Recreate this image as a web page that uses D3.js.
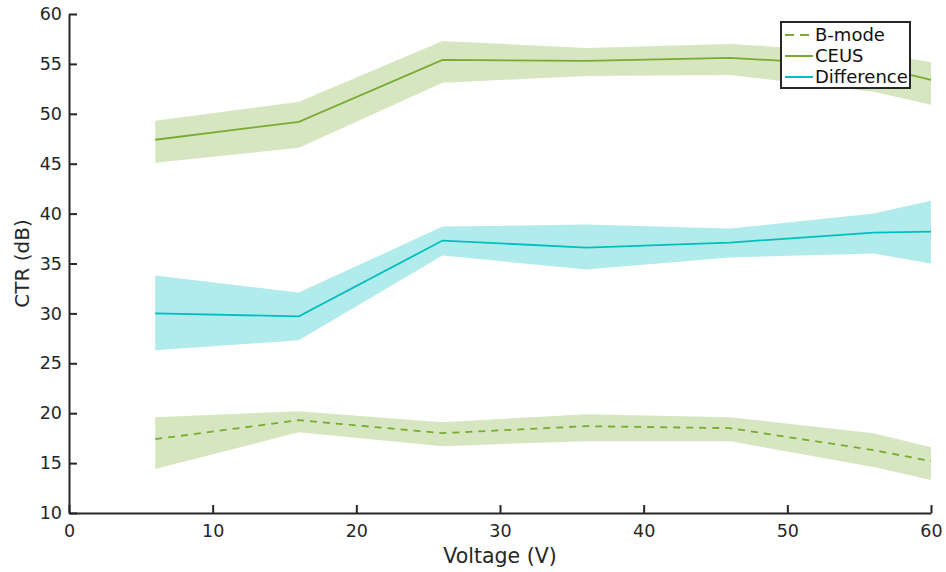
<!DOCTYPE html>
<html>
  <head>
    <meta charset="utf-8">
    <title>CTR vs Voltage</title>
    <script src="https://d3js.org/d3.v7.min.js"></script>
    <style>
      body { margin: 0; background: #fff; font-family: "DejaVu Sans", sans-serif; }
      svg text { fill: #262626; }
    </style>
  </head>
  <body>
    <div id="chart"></div>
    <script>
      // Voltage steps (V)
      var voltage = [6, 16, 26, 36, 46, 56, 60];

      // CTR (dB): mean, upper and lower edge of the shaded band
      var ceusMean  = [47.4, 49.2, 55.4, 55.3, 55.6, 54.8, 53.4];
      var ceusUpper = [49.3, 51.2, 57.3, 56.6, 57.0, 56.1, 55.2];
      var ceusLower = [45.1, 46.6, 53.1, 53.8, 53.9, 52.2, 50.9];

      var diffMean  = [30.0, 29.7, 37.3, 36.6, 37.1, 38.1, 38.2];
      var diffUpper = [33.8, 32.1, 38.7, 38.9, 38.5, 40.0, 41.3];
      var diffLower = [26.3, 27.3, 35.8, 34.4, 35.6, 36.0, 35.0];

      var bmodeMean  = [17.4, 19.3, 18.0, 18.7, 18.5, 16.3, 15.2];
      var bmodeUpper = [19.6, 20.2, 19.1, 19.9, 19.6, 18.0, 16.6];
      var bmodeLower = [14.4, 18.1, 16.7, 17.2, 17.2, 14.6, 13.3];

      var xTicks = [0, 10, 20, 30, 40, 50, 60];
      var yTicks = [10, 15, 20, 25, 30, 35, 40, 45, 50, 55, 60];

      var green = "#77ac30", greenBand = "#d6e6c1";
      var cyan = "#00bfbf", cyanBand = "#b2ebeb";

      var width = 946, height = 572;
      var margin = { top: 14, right: 15, bottom: 59, left: 69 };

      var svg = d3.select("#chart").append("svg")
        .attr("width", width)
        .attr("height", height);

      var x = d3.scaleLinear().domain([0, 60]).range([margin.left, width - margin.right]);
      var y = d3.scaleLinear().domain([10, 60]).range([height - margin.bottom, margin.top]);

      function rows(mean, lo, hi) {
        return voltage.map(function(v, i) { return { v: v, m: mean[i], lo: lo[i], hi: hi[i] }; });
      }

      var series = [
        { name: "B-mode", data: rows(bmodeMean, bmodeLower, bmodeUpper), line: green, band: greenBand, dash: "7,6" },
        { name: "CEUS", data: rows(ceusMean, ceusLower, ceusUpper), line: green, band: greenBand, dash: null },
        { name: "Difference", data: rows(diffMean, diffLower, diffUpper), line: cyan, band: cyanBand, dash: null }
      ];

      var area = d3.area()
        .x(function(d) { return x(d.v); })
        .y0(function(d) { return y(d.lo); })
        .y1(function(d) { return y(d.hi); });

      var line = d3.line()
        .x(function(d) { return x(d.v); })
        .y(function(d) { return y(d.m); });

      // bands first, then lines
      svg.selectAll(".band")
        .data(series)
        .enter().append("path")
          .attr("class", "band")
          .attr("d", function(d) { return area(d.data); })
          .style("fill", function(d) { return d.band; });

      svg.selectAll(".line")
        .data(series)
        .enter().append("path")
          .attr("class", "line")
          .attr("d", function(d) { return line(d.data); })
          .style("fill", "none")
          .style("stroke", function(d) { return d.line; })
          .style("stroke-width", 1.8)
          .style("stroke-dasharray", function(d) { return d.dash; });

      // axes, ticks point inward like matlab
      var xAxis = svg.append("g")
        .attr("transform", "translate(0," + y(10) + ")")
        .call(d3.axisBottom(x).tickValues(xTicks).tickSizeInner(-8).tickSizeOuter(0).tickPadding(12));

      var yAxis = svg.append("g")
        .attr("transform", "translate(" + x(0) + ",0)")
        .call(d3.axisLeft(y).tickValues(yTicks).tickSizeInner(-8).tickSizeOuter(0).tickPadding(7));

      [xAxis, yAxis].forEach(function(g) {
        g.select(".domain").style("stroke", "#262626").style("stroke-width", 2);
        g.selectAll(".tick line").style("stroke", "#262626").style("stroke-width", 2);
        g.selectAll(".tick text").style("font-size", "17.5px").style("font-family", "DejaVu Sans");
      });

      svg.append("text")
        .attr("x", (x(0) + x(60)) / 2)
        .attr("y", 563)
        .attr("text-anchor", "middle")
        .style("font-size", "20.5px")
        .text("Voltage (V)");

      svg.append("text")
        .attr("transform", "translate(29," + y(35) + ") rotate(-90)")
        .attr("text-anchor", "middle")
        .style("font-size", "20px")
        .text("CTR (dB)");

      // legend
      var legend = svg.append("g").attr("transform", "translate(781,22)");
      legend.append("rect")
        .attr("width", 129).attr("height", 66)
        .style("fill", "#fff")
        .style("stroke", "#262626")
        .style("stroke-width", 2);

      var item = legend.selectAll(".item")
        .data(series)
        .enter().append("g")
          .attr("transform", function(d, i) { return "translate(0," + (13 + i * 21) + ")"; });

      item.append("line")
        .attr("x1", 4).attr("x2", 32)
        .style("stroke", function(d) { return d.line; })
        .style("stroke-width", 2)
        .style("stroke-dasharray", function(d) { return d.dash ? "9,6" : null; });

      item.append("text")
        .attr("x", 34)
        .attr("dy", "0.35em")
        .style("font-size", "18px")
        .style("fill", "#111")
        .text(function(d) { return d.name; });
    </script>
  </body>
</html>
